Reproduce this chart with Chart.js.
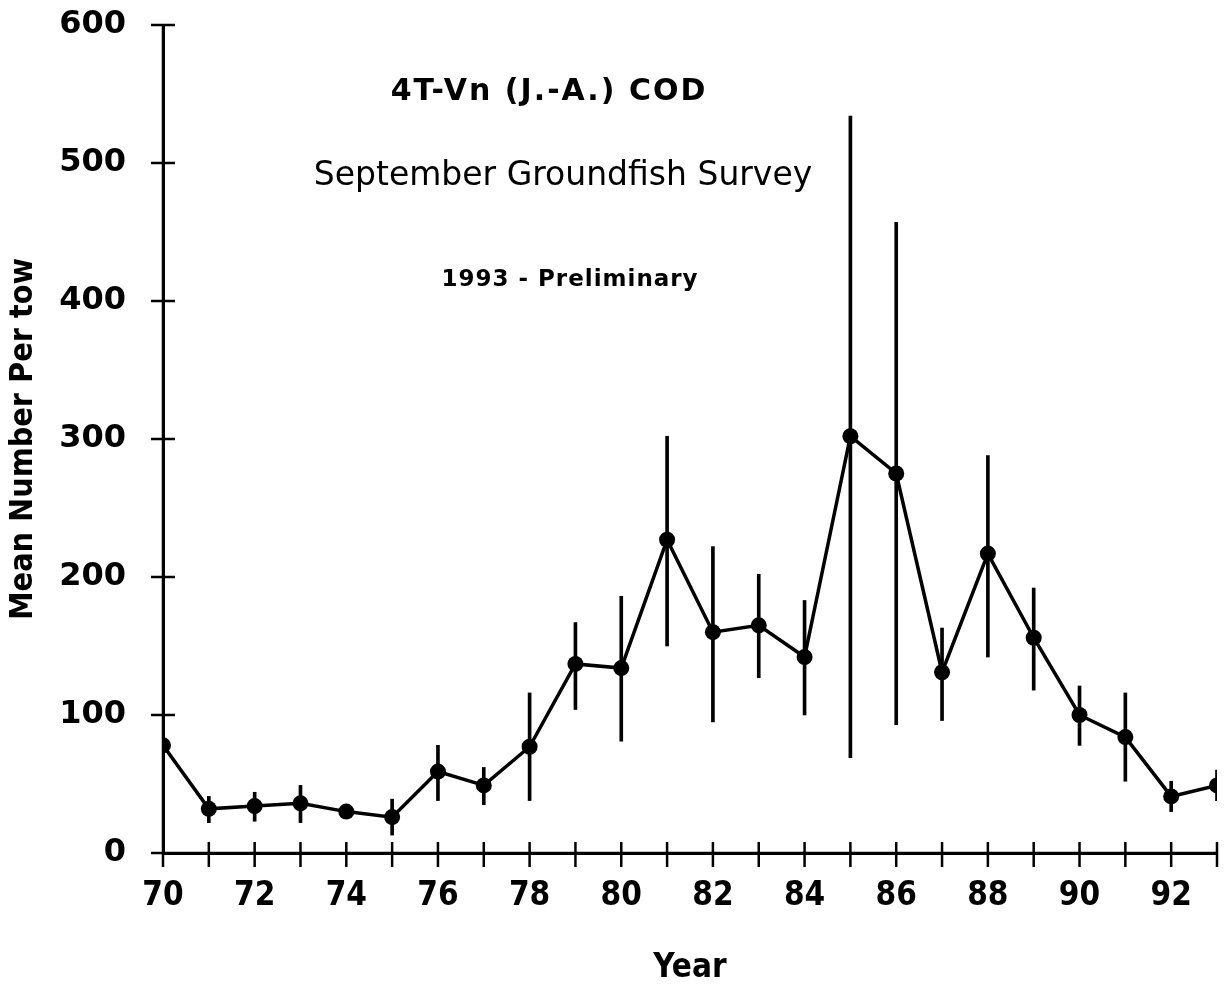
<!DOCTYPE html>
<html>
<head>
<meta charset="utf-8">
<script src="https://cdn.jsdelivr.net/npm/chart.js@4.4.1/dist/chart.umd.min.js"></script>
<style>
  html, body { margin: 0; padding: 0; background: #fff; }
  #wrap { width: 1228px; height: 990px; position: relative; }
</style>
</head>
<body>
<div id="wrap"><canvas id="c" width="1228" height="990"></canvas></div>
<script>
// ---- data ----
const years = [70,71,72,73,74,75,76,77,78,79,80,81,82,83,84,85,86,87,88,89,90,91,92,93];
const meanPerTow = [78,32,34,36,30,26,59,49,77,137,134,227,160,165,142,302,275,131,217,156,100,84,41,49];
const lowerBound = [null,22,23,22,26,13,38,35,38,104,81,150,95,127,100,69,93,96,142,118,78,52,30,38];
const upperBound = [null,41,44,49,34,39,78,62,116,167,186,302,222,202,183,534,457,163,288,192,121,116,52,60];
const yTicks = [0,100,200,300,400,500,600];
const titleLines = ["4T-Vn (J.-A.) COD", "September Groundfish Survey", "1993 - Preliminary"];
const xAxisTitle = "Year";
const yAxisTitle = "Mean Number Per tow";

const errorData = years.map((y, i) => upperBound[i] == null ? null : { x: y, y: [lowerBound[i], upperBound[i]] }).filter(d => d);
const meanData = years.map((y, i) => ({ x: y, y: meanPerTow[i] }));

const crossTicks = {
  id: 'crossTicks',
  afterDatasetsDraw(chart) {
    const ctx = chart.ctx;
    const xs = chart.scales.x, ys = chart.scales.y;
    const ax = xs.getPixelForValue(70), ay = ys.getPixelForValue(0);
    ctx.save();
    ctx.strokeStyle = '#000';
    ctx.lineWidth = 2.5;
    ctx.beginPath();
    ctx.moveTo(ax, ys.getPixelForValue(600));
    ctx.lineTo(ax, ay + 14);
    ctx.moveTo(ax - 12, ay);
    ctx.lineTo(xs.getPixelForValue(93), ay);
    yTicks.forEach(v => {
      const p = ys.getPixelForValue(v);
      ctx.moveTo(ax - 12, p); ctx.lineTo(ax + 12, p);
    });
    years.forEach(v => {
      const p = xs.getPixelForValue(v);
      ctx.moveTo(p, ay - 11); ctx.lineTo(p, ay + 14);
    });
    ctx.stroke();
    ctx.restore();
  },
  afterDraw(chart) {
    const ctx = chart.ctx;
    const a = chart.chartArea;
    ctx.save();
    ctx.fillStyle = '#000';
    ctx.textAlign = 'center';
    ctx.textBaseline = 'middle';
    ctx.font = 'bold 30px "DejaVu Sans"';
    ctx.letterSpacing = '2px';
    ctx.fillText(titleLines[0], a.left + 386, a.top + 67);
    ctx.font = '33px "DejaVu Sans"';
    ctx.letterSpacing = '0px';
    ctx.fillText(titleLines[1], a.left + 400, a.top + 151);
    ctx.font = 'bold 23px "DejaVu Sans"';
    ctx.letterSpacing = '1px';
    ctx.fillText(titleLines[2], a.left + 407, a.top + 255);
    ctx.restore();
  }
};

new Chart(document.getElementById('c'), {
  data: {
    datasets: [
      {
        type: 'bar',
        data: errorData,
        backgroundColor: '#000',
        borderWidth: 0,
        barThickness: 3,
        order: 2
      },
      {
        type: 'line',
        data: meanData,
        borderColor: '#000',
        borderWidth: 3.5,
        backgroundColor: '#000',
        pointRadius: 8,
        pointBackgroundColor: '#000',
        pointBorderWidth: 0,
        tension: 0,
        order: 1
      }
    ]
  },
  options: {
    responsive: false,
    animation: false,
    layout: { padding: { left: 0, top: 25, right: 11, bottom: 0 } },
    plugins: { legend: { display: false }, tooltip: { enabled: false } },
    scales: {
      x: {
        type: 'linear',
        min: 70, max: 93,
        offset: false,
        afterFit: s => { s.height = 137; },
        grid: { display: true, drawOnChartArea: false, drawTicks: true, tickLength: 24, color: 'rgba(0,0,0,0)', tickColor: 'rgba(0,0,0,0)' },
        border: { display: true, color: '#000', width: 3 },
        ticks: {
          stepSize: 1, autoSkip: false, maxRotation: 0, color: '#000', padding: 0,
          font: { family: '"DejaVu Sans Condensed", "DejaVu Sans"', weight: 'bold', size: 33 },
          callback: v => (v % 2 === 0 ? String(v) : '')
        },
        title: {
          display: true, text: xAxisTitle, color: '#000',
          font: { family: '"DejaVu Sans Condensed", "DejaVu Sans"', weight: 'bold', size: 33 },
          padding: { top: 0, bottom: 2 }
        }
      },
      y: {
        type: 'linear',
        min: 0, max: 600,
        afterFit: s => { s.width = 163; },
        grid: { display: true, drawOnChartArea: false, drawTicks: true, tickLength: 37, color: 'rgba(0,0,0,0)', tickColor: 'rgba(0,0,0,0)' },
        border: { display: true, color: '#000', width: 3 },
        ticks: {
          stepSize: 100, color: '#000', padding: 0,
          font: { family: '"DejaVu Sans"', weight: 'bold', size: 32 }
        },
        title: {
          display: true, text: yAxisTitle, color: '#000',
          font: { family: '"DejaVu Sans Condensed", "DejaVu Sans"', weight: 'bold', size: 32 },
          padding: { top: 4, bottom: 0 }
        }
      }
    }
  },
  plugins: [crossTicks]
});
</script>
</body>
</html>
